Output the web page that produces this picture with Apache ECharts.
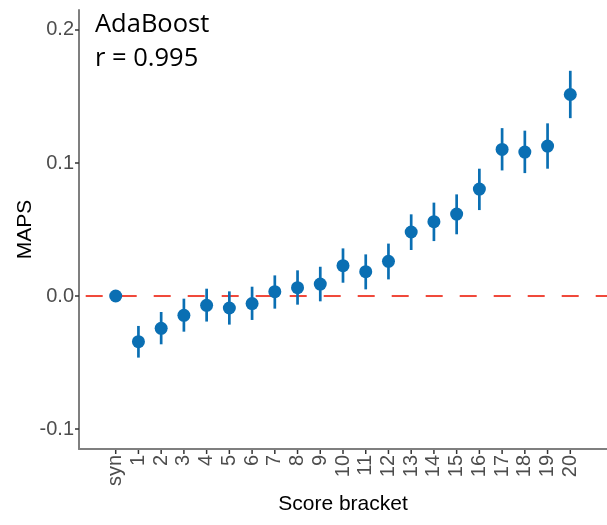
<!DOCTYPE html>
<html><head><meta charset="utf-8">
<script src="https://cdn.jsdelivr.net/npm/echarts@6/dist/echarts.min.js"></script>
<style>html,body{margin:0;padding:0;background:#fff}#c{width:607px;height:525px}</style>
</head><body><div id="c"></div>
<script>
const categories = ['syn','1','2','3','4','5','6','7','8','9','10','11','12','13','14','15','16','17','18','19','20'];
const maps  = [0, -0.0343, -0.0243, -0.0145, -0.0070, -0.0090, -0.0057, 0.0033, 0.0063, 0.0090, 0.0228, 0.0183, 0.0261, 0.0481, 0.0559, 0.0616, 0.0804, 0.1102, 0.1082, 0.1127, 0.1515];
const upper = [0, -0.0225, -0.0120, -0.0020, 0.0055, 0.0035, 0.0070, 0.0155, 0.0193, 0.0220, 0.0358, 0.0313, 0.0394, 0.0614, 0.0702, 0.0764, 0.0957, 0.1262, 0.1243, 0.1298, 0.1693];
const lower = [0, -0.0463, -0.0363, -0.0268, -0.0192, -0.0215, -0.0180, -0.0095, -0.0065, -0.0040, 0.0100, 0.0050, 0.0125, 0.0346, 0.0413, 0.0464, 0.0646, 0.0944, 0.0924, 0.0957, 0.1337];
const yTicks = [-0.1, 0.0, 0.1, 0.2];
const title1 = 'AdaBoost';
const title2 = 'r = 0.995';

const idx = categories.map((_, i) => i);
const X_MIN = -1.615, X_MAX = 21.615, Y_MIN = -0.115, Y_MAX = 0.215;
const chart = echarts.init(document.getElementById('c'), null, {renderer: 'canvas'});
const blue = '#0A6FB3';
chart.setOption({
  animation: false,
  backgroundColor: '#fff',
  grid: {left: 79, right: 0, top: 10, bottom: 76, containLabel: false},
  graphic: [
    {type: 'text', left: 95, top: 12, style: {text: title1, font: '25.5px "Open Sans"', fill: '#000'}},
    {type: 'text', left: 95, top: 46, style: {text: title2, font: '25.5px "Open Sans"', fill: '#000'}}
  ],
  xAxis: {
    type: 'value', min: X_MIN, max: X_MAX,
    name: 'Score bracket', nameLocation: 'middle', nameGap: 41,
    nameTextStyle: {fontFamily: 'Liberation Sans', fontSize: 21, color: '#000'},
    axisLine: {show: true, onZero: false, lineStyle: {color: '#7f7f7f', width: 2}},
    axisTick: {show: false},
    axisLabel: {customValues: idx, rotate: 90, margin: 6, fontFamily: 'Liberation Sans', fontSize: 20, color: '#4D4D4D',
      formatter: v => categories[Math.round(v)] ?? ''},
    splitLine: {show: false}
  },
  yAxis: {
    type: 'value', min: Y_MIN, max: Y_MAX,
    name: 'MAPS', nameLocation: 'middle', nameGap: 43, nameMoveOverlap: false,
    nameTextStyle: {fontFamily: 'Liberation Sans', fontSize: 21, color: '#000'},
    axisLine: {show: true, onZero: false, lineStyle: {color: '#7f7f7f', width: 2}},
    axisTick: {show: true, customValues: yTicks, length: 4, lineStyle: {color: '#333', width: 1.5}},
    axisLabel: {customValues: yTicks, margin: 5, fontFamily: 'Liberation Sans', fontSize: 20, color: '#4D4D4D',
      formatter: v => v.toFixed(1)},
    splitLine: {show: false}
  },
  series: [
    {
      type: 'line', data: [[X_MIN, 0], [X_MAX, 0]], symbol: 'none', silent: true, z: 1,
      lineStyle: {color: '#F0483A', width: 2, type: [17, 17], dashOffset: 27.3}
    },
    {
      type: 'custom', z: 5, clip: false, silent: true,
      data: idx.map(i => [i]),
      renderItem: (params, api) => {
        const p = api.coord([api.value(0), Y_MIN]);
        return {type: 'line', shape: {x1: p[0], y1: p[1] + 1, x2: p[0], y2: p[1] + 5}, style: {stroke: '#333', lineWidth: 1.5}};
      }
    },
    {
      type: 'custom', z: 2,
      data: idx.map(i => [i, lower[i], upper[i]]),
      renderItem: (params, api) => {
        const a = api.coord([api.value(0), api.value(1)]);
        const b = api.coord([api.value(0), api.value(2)]);
        return {type: 'line', shape: {x1: a[0], y1: a[1], x2: b[0], y2: b[1]}, style: {stroke: blue, lineWidth: 2.7}};
      }
    },
    {
      type: 'scatter', z: 3, symbol: 'circle', symbolSize: 13,
      data: idx.map(i => [i, maps[i]]),
      itemStyle: {color: blue, opacity: 1}
    }
  ]
});
</script></body></html>
